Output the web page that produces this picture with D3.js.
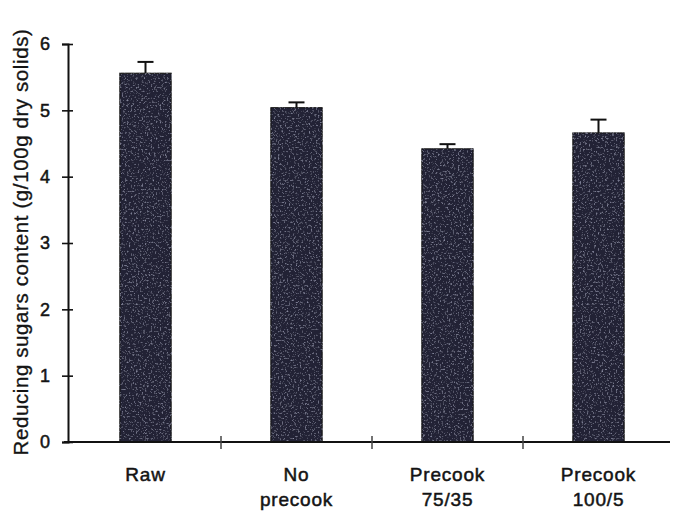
<!DOCTYPE html>
<html>
<head>
<meta charset="utf-8">
<script src="https://cdn.jsdelivr.net/npm/d3@7"></script>
<style>
  body { margin: 0; background: #fff; }
  svg { display: block; }
  text { font-family: "Liberation Sans", Arial, sans-serif; fill: #141414; }
</style>
</head>
<body>
<div id="chart"></div>
<script>
// chart data
var categories = ["Raw", "No\nprecook", "Precook\n75/35", "Precook\n100/5"];
var values = [5.56, 5.04, 4.42, 4.66];
var errors = [0.17, 0.08, 0.07, 0.2];
var yTicks = [0, 1, 2, 3, 4, 5, 6];
var yTitle = "Reducing sugars content (g/100g dry solids)";

var width = 674, height = 514;
var margin = { top: 44, right: 0, bottom: 72, left: 70 };

var svg = d3
  .select("#chart")
  .append("svg")
  .attr("width", width)
  .attr("height", height);

// speckled texture like the scanned bars
var defs = svg.append("defs");
var filter = defs.append("filter").attr("id", "speckle");
filter
  .append("feTurbulence")
  .attr("type", "fractalNoise")
  .attr("baseFrequency", 0.55)
  .attr("numOctaves", 2)
  .attr("seed", 3)
  .attr("result", "noise");
filter
  .append("feColorMatrix")
  .attr("in", "noise")
  .attr("type", "matrix")
  .attr("values", "0 0 0 0 0.35  0 0 0 0 0.36  0 0 0 0 0.5  0 0 0 2.2 -1.25")
  .attr("result", "dots");
filter
  .append("feComposite")
  .attr("in", "dots")
  .attr("in2", "SourceGraphic")
  .attr("operator", "in")
  .attr("result", "clipped");
var merge = filter.append("feMerge");
merge.append("feMergeNode").attr("in", "SourceGraphic");
merge.append("feMergeNode").attr("in", "clipped");

var x = d3
  .scaleBand()
  .domain(categories)
  .range([margin.left, width - margin.right])
  .paddingInner(0.66)
  .paddingOuter(0.33);

var y = d3
  .scaleLinear()
  .domain([0, 6])
  .range([height - margin.bottom, margin.top]);

// bars
svg
  .selectAll(".bar")
  .data(categories)
  .enter()
  .append("rect")
  .attr("class", "bar")
  .attr("x", (d) => x(d))
  .attr("y", (d, i) => y(values[i]))
  .attr("width", x.bandwidth())
  .attr("height", (d, i) => y(0) - y(values[i]))
  .attr("fill", "#222235")
  .attr("stroke", "#111")
  .attr("stroke-width", 1)
  .attr("filter", "url(#speckle)");

// error bars
var err = svg
  .selectAll(".err")
  .data(categories)
  .enter()
  .append("g")
  .attr("class", "err")
  .attr("stroke", "#111")
  .attr("stroke-width", 2);

err
  .append("line")
  .attr("x1", (d) => x(d) + x.bandwidth() / 2)
  .attr("x2", (d) => x(d) + x.bandwidth() / 2)
  .attr("y1", (d, i) => y(values[i]))
  .attr("y2", (d, i) => y(values[i] + errors[i]));

err
  .append("line")
  .attr("x1", (d) => x(d) + x.bandwidth() / 2 - 8)
  .attr("x2", (d) => x(d) + x.bandwidth() / 2 + 8)
  .attr("y1", (d, i) => y(values[i] + errors[i]))
  .attr("y2", (d, i) => y(values[i] + errors[i]));

// y axis
var yAxis = svg
  .append("g")
  .attr("transform", "translate(" + (margin.left - 2) + ",0)")
  .call(
    d3.axisLeft(y).tickValues(yTicks).tickFormat(d3.format("d")).tickSize(6).tickPadding(12)
  );
yAxis.select(".domain").attr("stroke", "#111").attr("stroke-width", 2);
yAxis
  .selectAll(".tick line")
  .attr("x1", 5)
  .attr("x2", -6)
  .attr("stroke", "#111")
  .attr("stroke-width", 1.6);
yAxis
  .selectAll(".tick text")
  .style("font-size", "18px")
  .style("font-family", "Liberation Sans, Arial, sans-serif")
  .attr("fill", "#141414")
  .attr("stroke", "#141414")
  .attr("stroke-width", 0.5);

// x axis baseline with ticks between categories
var xAxis = svg
  .append("g")
  .attr("transform", "translate(0," + y(0) + ")");
xAxis
  .append("line")
  .attr("x1", margin.left - 6)
  .attr("x2", width - 4)
  .attr("stroke", "#111")
  .attr("stroke-width", 2);
xAxis
  .selectAll(".sep")
  .data(categories.slice(1))
  .enter()
  .append("line")
  .attr("class", "sep")
  .attr("x1", (d) => x(d) - (x.step() - x.bandwidth()) / 2)
  .attr("x2", (d) => x(d) - (x.step() - x.bandwidth()) / 2)
  .attr("y1", -6)
  .attr("y2", 7)
  .attr("stroke", "#444")
  .attr("stroke-width", 1.5);

// category labels
var labels = svg
  .selectAll(".cat")
  .data(categories)
  .enter()
  .append("text")
  .attr("class", "cat")
  .attr("text-anchor", "middle")
  .style("font-size", "19px")
  .style("letter-spacing", "0.8px")
  .attr("stroke", "#141414")
  .attr("stroke-width", 0.5)
  .attr("transform", (d) => "translate(" + (x(d) + x.bandwidth() / 2) + "," + (y(0) + 39) + ")");
labels
  .selectAll("tspan")
  .data((d) => d.split("\n"))
  .enter()
  .append("tspan")
  .attr("x", 0)
  .attr("dy", (d, i) => (i === 0 ? 0 : 25))
  .text((d) => d);

// y title
svg
  .append("text")
  .attr("text-anchor", "middle")
  .attr("transform", "translate(28," + 242 + ") rotate(-90)")
  .style("font-size", "20.5px")
  .style("letter-spacing", "0.6px")
  .attr("stroke", "#141414")
  .attr("stroke-width", 0.3)
  .text(yTitle);
</script>
</body>
</html>
